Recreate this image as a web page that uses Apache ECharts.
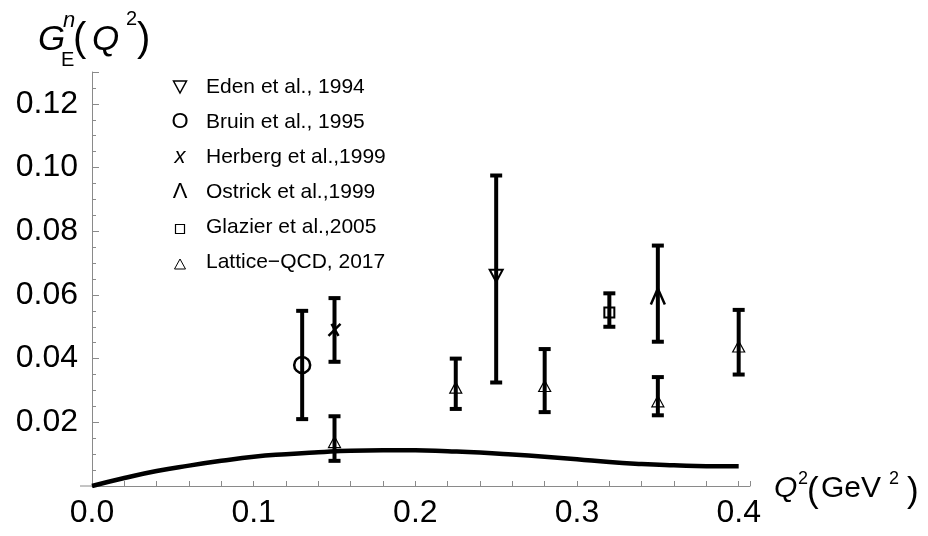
<!DOCTYPE html>
<html>
<head>
<meta charset="utf-8">
<script src="https://cdn.jsdelivr.net/npm/echarts@6/dist/echarts.min.js"></script>
<style>
  html, body { margin: 0; padding: 0; background: #fff; }
  #main { width: 928px; height: 536px; }
</style>
</head>
<body>
<div id="main"></div>
<script>
// 数据点
const edenX = [0.25], edenY = [0.066], edenLo = [0.0325], edenHi = [0.0975];
const bruinX = [0.13], bruinY = [0.038], bruinLo = [0.021], bruinHi = [0.055];
const herbergX = [0.15], herbergY = [0.049], herbergLo = [0.039], herbergHi = [0.059];
const ostrickX = [0.35], ostrickY = [0.0595], ostrickLo = [0.0453], ostrickHi = [0.0755];
const glazierX = [0.32], glazierY = [0.0545], glazierLo = [0.050], glazierHi = [0.0605];
const latticeX = [0.15, 0.225, 0.28, 0.35, 0.40];
const latticeY = [0.0138, 0.0309, 0.0314, 0.0266, 0.0438];
const latticeLo = [0.0079, 0.0242, 0.0232, 0.0222, 0.035];
const latticeHi = [0.0219, 0.040, 0.043, 0.0342, 0.0553];

// 理论曲线
const curveX = [0, 0.02, 0.04, 0.06, 0.08, 0.10, 0.12, 0.14, 0.16, 0.18, 0.20,
  0.22, 0.24, 0.26, 0.28, 0.30, 0.32, 0.34, 0.36, 0.38, 0.40];
const curveY = [0, 0.0025, 0.0047, 0.0064, 0.0079, 0.0092, 0.0100, 0.0106, 0.0111, 0.0112, 0.0112,
  0.0109, 0.0105, 0.0099, 0.0092, 0.0084, 0.0075, 0.0069, 0.0065, 0.0062, 0.0062];

const legendNames = ['Eden et al., 1994', 'Bruin et al., 1995', 'Herberg et al.,1999',
  'Ostrick et al.,1999', 'Glazier et al.,2005', 'Lattice\u2212QCD, 2017'];

const FONT = 'Liberation Sans, Arial, sans-serif';
const BLACK = '#000';
const AXIS = '#8a8a8a';

// 各种标记
function downTri(x, y, w, h, lw) {
  return [{ type: 'polygon', shape: { points: [[x - w / 2, y - h / 2], [x + w / 2, y - h / 2], [x, y + h / 2]] },
    style: { fill: 'transparent', stroke: BLACK, lineWidth: lw } }];
}
function upTri(x, y, w, h, lw) {
  return [{ type: 'polygon', shape: { points: [[x, y - h / 2], [x + w / 2, y + h / 2], [x - w / 2, y + h / 2]] },
    style: { fill: 'transparent', stroke: BLACK, lineWidth: lw } }];
}
function ring(x, y, r, lw) {
  return [{ type: 'circle', shape: { cx: x, cy: y, r: r }, style: { fill: 'transparent', stroke: BLACK, lineWidth: lw } }];
}
function cross(x, y) {
  const s = { stroke: BLACK, lineWidth: 2.5 };
  return [
    { type: 'line', shape: { x1: x - 3, y1: y - 6, x2: x + 4, y2: y + 6 }, style: s },
    { type: 'line', shape: { x1: x + 6, y1: y - 6, x2: x - 6, y2: y + 6 }, style: s }
  ];
}
function caret(x, y) {
  return [{ type: 'polyline', shape: { points: [[x - 7, y + 8], [x, y - 8], [x + 7, y + 8]] },
    style: { fill: null, stroke: BLACK, lineWidth: 2.5 } }];
}
function box(x, y, s, lw) {
  return [{ type: 'rect', shape: { x: x - s / 2, y: y - s / 2, width: s, height: s },
    style: { fill: 'transparent', stroke: BLACK, lineWidth: lw } }];
}

function errorSeries(name, xs, ys, lo, hi, marker) {
  return {
    type: 'custom',
    name: name,
    clip: false,
    z: 5,
    data: xs.map((x, i) => [x, ys[i], lo[i], hi[i]]),
    renderItem(params, api) {
      const c = api.coord([api.value(0), api.value(1)]);
      const t = api.coord([api.value(0), api.value(3)]);
      const b = api.coord([api.value(0), api.value(2)]);
      const st = { stroke: BLACK, lineWidth: 4 };
      return {
        type: 'group',
        children: [
          { type: 'line', shape: { x1: t[0], y1: t[1], x2: b[0], y2: b[1] }, style: st },
          { type: 'line', shape: { x1: t[0] - 6, y1: t[1], x2: t[0] + 6, y2: t[1] }, style: st },
          { type: 'line', shape: { x1: b[0] - 6, y1: b[1], x2: b[0] + 6, y2: b[1] }, style: st }
        ].concat(marker(c[0], c[1]))
      };
    }
  };
}

const chart = echarts.init(document.getElementById('main'), null, { renderer: 'canvas' });

const isStep = (v, step) => Math.abs(v / step - Math.round(v / step)) < 1e-6;

const option = {
  animation: false,
  backgroundColor: '#fff',
  textStyle: { fontFamily: FONT },
  grid: { left: 92, right: 178, top: 72, bottom: 50, containLabel: false, outerBoundsMode: 'none' },
  xAxis: {
    type: 'value',
    min: 0,
    max: 0.407,
    interval: 0.02,
    axisLine: { onZero: false, lineStyle: { color: AXIS, width: 1 } },
    axisTick: { inside: true, length: 5, lineStyle: { color: AXIS } },
    splitLine: { show: false },
    axisLabel: {
      color: BLACK, fontSize: 32, fontFamily: FONT, margin: 11,
      formatter: v => isStep(v, 0.1) ? v.toFixed(1) : ''
    }
  },
  yAxis: [{
    type: 'value',
    min: 0,
    max: 0.13,
    interval: 0.005,
    axisLine: { show: true, onZero: false, lineStyle: { color: AXIS, width: 1 } },
    axisTick: { show: true, inside: true, length: 4, lineStyle: { color: AXIS } },
    splitLine: { show: false },
    axisLabel: { show: false }
  }, {
    // 主刻度与标签
    type: 'value',
    position: 'left',
    offset: 0,
    min: 0,
    max: 0.13,
    interval: 0.02,
    axisLine: { show: false },
    axisTick: { show: true, inside: true, length: 7, lineStyle: { color: AXIS } },
    splitLine: { show: false },
    axisLabel: {
      color: BLACK, fontSize: 32, fontFamily: FONT, margin: 14,
      formatter: v => (v > 0 && isStep(v, 0.02)) ? v.toFixed(2) : ''
    }
  }],
  series: [
    {
      type: 'line',
      data: curveX.map((x, i) => [x, curveY[i]]),
      smooth: true,
      symbol: 'none',
      lineStyle: { color: BLACK, width: 4.5 },
      z: 3
    },
    errorSeries('Eden', edenX, edenY, edenLo, edenHi, (x, y) => downTri(x, y, 13, 12, 2)),
    errorSeries('Bruin', bruinX, bruinY, bruinLo, bruinHi, (x, y) => ring(x, y, 8, 2.5)),
    errorSeries('Herberg', herbergX, herbergY, herbergLo, herbergHi, cross),
    errorSeries('Ostrick', ostrickX, ostrickY, ostrickLo, ostrickHi, caret),
    errorSeries('Glazier', glazierX, glazierY, glazierLo, glazierHi, (x, y) => box(x, y, 10, 2)),
    errorSeries('Lattice', latticeX, latticeY, latticeLo, latticeHi, (x, y) => upTri(x, y, 12, 11, 1.2))
  ]
};
chart.setOption(option);

// 图例、坐标轴标题
const origin = chart.convertToPixel({ gridIndex: 0 }, [0, 0]);
const els = [];
let k = 0;
function add(el) { el.id = 'g' + (k++); els.push(el); }
function txt(x, y, text, font, align) {
  add({ type: 'text', x: x, y: y, style: { text: text, font: font, fill: BLACK, align: align || 'left', verticalAlign: 'middle' } });
}

// x轴向左延伸
add({ type: 'line', shape: { x1: origin[0] - 12, y1: origin[1], x2: origin[0], y2: origin[1] },
  style: { stroke: AXIS, lineWidth: 1 } });

const legX = 180, legY0 = 87, legDy = 35;
const legMarks = [
  y => downTri(legX, y, 13, 12, 1.5),
  y => [{ type: 'text', x: legX, y: y, style: { text: 'O', font: '22px ' + FONT, fill: BLACK, align: 'center', verticalAlign: 'middle' } }],
  y => [{ type: 'text', x: legX, y: y, style: { text: 'x', font: 'italic 22px ' + FONT, fill: BLACK, align: 'center', verticalAlign: 'middle' } }],
  y => [{ type: 'text', x: legX, y: y, style: { text: '\u039B', font: '22px ' + FONT, fill: BLACK, align: 'center', verticalAlign: 'middle' } }],
  y => box(legX, y + 2, 9, 1.2),
  y => upTri(legX, y + 2, 11, 10, 1)
];
legendNames.forEach((name, i) => {
  const y = legY0 + legDy * i;
  legMarks[i](y).forEach(add);
  txt(206, y, name, '21px ' + FONT);
});

// y轴标题 G_E^n(Q^2)
txt(38, 40, 'G', 'italic 35px ' + FONT);
txt(63, 21, 'n', 'italic 22px ' + FONT);
txt(61, 60, 'E', '20px ' + FONT);
txt(73, 40, '(', '40px ' + FONT);
txt(92, 40, 'Q', 'italic 35px ' + FONT);
txt(126, 19, '2', '20px ' + FONT);
txt(137, 40, ')', '40px ' + FONT);

// x轴标题 Q^2(GeV 2)
txt(774, 489, 'Q', 'italic 30px ' + FONT);
txt(798, 479, '2', '18px ' + FONT);
txt(807, 492, '(', '35px ' + FONT);
txt(821, 489, 'GeV', '30px ' + FONT);
txt(889, 479, '2', '18px ' + FONT);
txt(907, 492, ')', '35px ' + FONT);

chart.setOption({ graphic: els });
</script>
</body>
</html>
